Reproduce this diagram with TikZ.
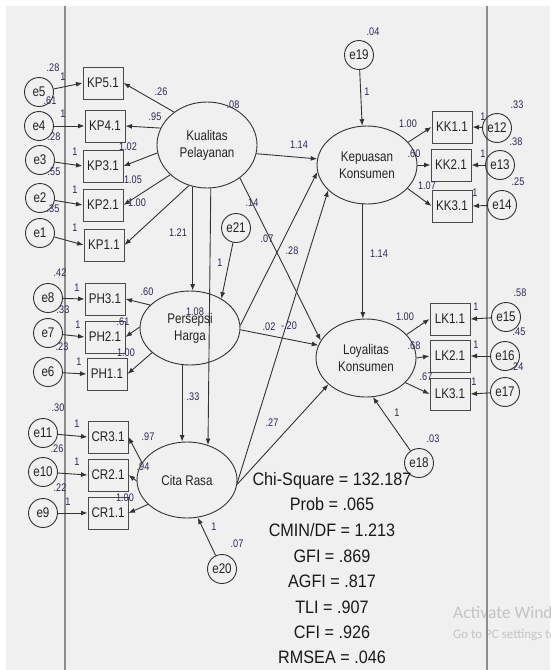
\documentclass[tikz,border=0pt]{standalone}
\usepackage{fontspec}
\setmainfont{Liberation Sans}[FakeStretch=0.83]
\newfontfamily\fitfont{Liberation Sans}[FakeStretch=0.9]
\newfontfamily\osfont{Carlito}
\usetikzlibrary{arrows.meta,shapes.geometric}
\definecolor{canvasgray}{HTML}{F0F0F0}
\definecolor{edgec}{HTML}{333333}
\definecolor{framec}{HTML}{4A4A4A}
\definecolor{estc}{HTML}{2C2756}
\definecolor{namec}{HTML}{262222}
\definecolor{railc}{HTML}{8C8C8C}
\definecolor{wmc}{HTML}{C4C4C4}
\begin{document}
\begin{tikzpicture}[x=1pt,y=-1pt,
  obsbox/.style={draw=framec, line width=1pt, rectangle, minimum width=40pt,
    minimum height=32pt, inner sep=0pt, text=namec, font=\fontsize{14}{16}\selectfont},
  latent/.style={draw=edgec, line width=0.9pt, ellipse, minimum width=100pt,
    inner sep=0pt, align=center, text=namec, font=\fontsize{14}{17}\selectfont},
  errc/.style={draw=edgec, line width=0.9pt, circle, minimum size=29pt,
    inner sep=0pt, text=namec, font=\fontsize{14}{16}\selectfont},
  arr/.style={draw=edgec, line width=0.9pt, -{Latex[length=6.5pt,width=5pt]}},
  est/.style={font=\fontsize{11}{12}\selectfont, text=estc, inner sep=0pt},
  fitline/.style={font=\fitfont\fontsize{18}{20}\selectfont, text=black!90,
    inner sep=0pt, anchor=base},
  osnote/.style={text=wmc, inner sep=0pt, anchor=base west},
]
% canvas
\fill[white] (0,0) rectangle (550,670);
\fill[canvasgray] (6,6) rectangle (550,670);
\useasboundingbox (0,0) rectangle (550,670);

% system overlay text
\begin{scope}
  \clip (0,0) rectangle (550,670);
  \node[osnote, font=\osfont\fontsize{17.5}{20}\selectfont] (os1) at (453,618) {Activate Windows};
  \node[osnote, font=\osfont\fontsize{13}{15}\selectfont] (os2) at (453,638) {Go to PC settings to activate Windows.};
\end{scope}

% window rails
\draw[railc, line width=1.2pt] (65,6) -- (65,670);
\draw[railc, line width=1.2pt] (487,6) -- (487,670);

% latent variables
\node[latent, minimum height=86pt] (kpl) at (207,145) {Kualitas\\Pelayanan};
\node[latent, minimum height=74pt] (phl) at (190,328) {Persepsi\\Harga};
\node[latent, minimum height=76pt] (crl) at (187,480) {Cita Rasa};
\node[latent, minimum height=78pt] (kkl) at (367,165) {Kepuasan\\Konsumen};
\node[latent, minimum height=78pt] (lkl) at (366,358) {Loyalitas\\Konsumen};

% indicators
\foreach \b/\bx/\by/\t in {kp5/103/83/KP5.1, kp4/105/126/KP4.1, kp3/103/166/KP3.1,
    kp2/103/205/KP2.1, kp1/104/245/KP1.1, ph3/105/299/PH3.1, ph2/105/337/PH2.1,
    ph1/107/374/PH1.1, cr3/108/437/CR3.1, cr2/108/475/CR2.1, cr1/108/513/CR1.1,
    kk1/452/127/KK1.1, kk2/451/165/KK2.1, kk3/452/206/KK3.1,
    lk1/450/319/LK1.1, lk2/450/356/LK2.1, lk3/450/394/LK3.1}
  \node[obsbox] (\b) at (\bx,\by) {\t};

% error terms
\foreach \e/\ex/\ey in {e5/39/92, e4/39/126, e3/40/160, e2/40/198, e1/40/233,
    e8/48/298, e7/48/333, e6/48/372, e11/43/433, e10/43/472, e9/43/513,
    e12/497/128, e13/500/165, e14/502/205, e15/506/317, e16/505/356, e17/505/392,
    e19/359/55, e18/419/463, e20/222/569, e21/236/228}
  \node[errc] (\e) at (\ex,\ey) {\e};

% error -> indicator
\foreach \e/\b in {e5/kp5, e4/kp4, e3/kp3, e2/kp2, e1/kp1, e8/ph3, e7/ph2, e6/ph1,
    e11/cr3, e10/cr2, e9/cr1}
  \draw[arr] (\e) -- (\b.west);
\foreach \e/\b in {e12/kk1, e13/kk2, e14/kk3, e15/lk1, e16/lk2, e17/lk3}
  \draw[arr] (\e) -- (\b.east);

% loadings
\foreach \s/\a/\b in {kpl/135/kp5, kpl/160/kp4, kpl/189/kp3, kpl/219/kp2, kpl/246/kp1,
    phl/150/ph3, phl/179/ph2, phl/213/ph1, crl/159/cr3, crl/181/cr2, crl/212/cr1}
  \draw[arr] (\s.\a) -- (\b.east);
\foreach \s/\a/\b in {kkl/29/kk1, kkl/0/kk2, kkl/330/kk3, lkl/30/lk1, lkl/0/lk2, lkl/328/lk3}
  \draw[arr] (\s.\a) -- (\b.west);

% structural paths
\draw[arr] (kpl.350) -- (kkl.173);
\draw[arr] (kpl.315) -- (lkl.159);
\draw[arr] (kpl.251) -- (kpl.251 |- phl.north);
\draw[arr] (kpl.275) -- (crl.59);
\draw[arr] (phl.258) -- (phl.258 |- crl.north);
\draw[arr] (phl.3) -- (kkl.188);
\draw[arr] (phl.358) -- (lkl.165);
\draw[arr] (crl.357) -- (kkl.213);
\draw[arr] (crl.355) -- (lkl.215);
\draw[arr] (kkl.264) -- (kkl.264 |- lkl.north);
\draw[arr] (e19) -- (kkl.97);
\draw[arr] (e18) -- (lkl.280);
\draw[arr] (e20) -- (crl.286);
\draw[arr] (e21) -- (phl.43);

% estimates
\foreach \n/\x/\y/\t in {
    vE5/53/68/.28, vE4/50/101/.61, vE3/54/137/.28, vE2/54/172/.55, vE1/53/209/.35,
    oE5/63/77/1, oE4/63/114/1, oE3/75/152/1, oE2/75/190/1, oE1/75/228/1,
    wKP5/161/92/.26, wKP4/155/117/.95, wKP3/128/147/1.02, wKP2/133/180/1.05, wKP1/137/203/1.00,
    vKPL/233/105/.08,
    vE8/60/273/.42, vE7/63/310/.33, vE6/62/347/.23, oE8/77/288/1, oE7/78/325/1, oE6/79/362/1,
    wPH3/147/292/.60, wPH2/123/322/.61, wPH1/126/353/1.00,
    vE11/58/408/.30, vE10/57/449/.26, vE9/60/488/.22, oE11/77/424/1, oE10/77/462/1, oE9/68/502/1,
    wCR3/148/437/.97, wCR2/143/467/.94, wCR1/125/498/1.00,
    oE20/214/527/1, vE20/237/544/.07, oE21/220/263/1,
    bKK/299/145/1.14, bKL/252/203/.14, bPK/267/239/.07, bCK/292/251/.28, bKP/178/233/1.21,
    bKC/195/312/1.08, bPL/269/327/.02, bXL/289/326/-.20, bPC/193/397/.33, bCL/272/423/.27,
    bKKL/379/254/1.14,
    vE19/373/32/.04, oE19/367/92/1, wKK1/408/124/1.00, wKK2/414/154/.60, wKK3/427/186/1.07,
    oE12/483/117/1, oE13/483/154/1, oE14/475/193/1, vE12/517/105/.33, vE13/516/142/.38, vE14/518/182/.25,
    wLK1/405/317/1.00, wLK2/414/346/.68, wLK3/426/377/.67,
    oE15/476/307/1, oE16/476/345/1, oE17/474/382/1, vE15/520/293/.58, vE16/519/332/.45, vE17/517/367/.24,
    oE18/397/413/1, vE18/433/439/.03}
  \node[est] (\n) at (\x,\y) {\t};

% fit statistics
\node[fitline] (chisq) at (332,485) {Chi-Square = 132.187};
\node[fitline] (prob)  at (332,510) {Prob = .065};
\node[fitline] (cmin)  at (332,536) {CMIN/DF = 1.213};
\node[fitline] (gfi)   at (332,562) {GFI = .869};
\node[fitline] (agfi)  at (332,587) {AGFI = .817};
\node[fitline] (tli)   at (332,613) {TLI = .907};
\node[fitline] (cfi)   at (332,638) {CFI = .926};
\node[fitline] (rmsea) at (332,663) {RMSEA = .046};
\end{tikzpicture}
\end{document}
